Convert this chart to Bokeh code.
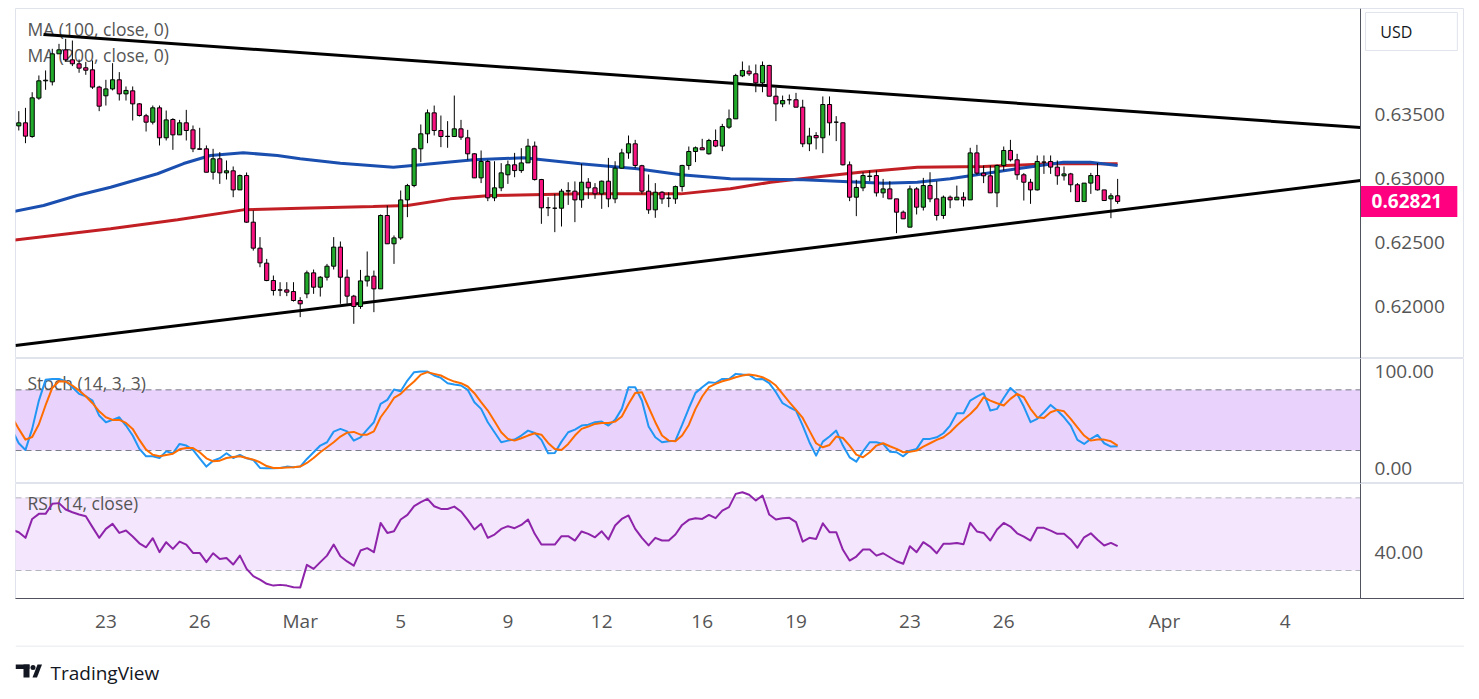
import numpy as np
from bokeh.plotting import figure
from bokeh.models import Range1d, FixedTicker, Span, BoxAnnotation
from bokeh.layouts import column
from bokeh.core.properties import value
from bokeh.embed import file_html
from bokeh.resources import INLINE

# ── Theme ────────────────────────────────────────────────────────
FONT = "Open Sans"
TEXT = "#555555"
AXIS = "#50535e"
BORDER = "#e0e3eb"
GREEN = "#22ab2b"
PINK = "#f8127f"
MA100_COLOR = "#1a4fb0"
MA200_COLOR = "#c21f25"

# ── Data (4h bars) ───────────────────────────────────────────────
opens = [
    0.63411, 0.63435, 0.63328, 0.63628, 0.63763, 0.63755, 0.63974, 0.64005, 0.63927, 0.63896,
    0.63865, 0.63849, 0.63714, 0.63646, 0.63700, 0.63771, 0.63661, 0.63685, 0.63583, 0.63490,
    0.63440, 0.63552, 0.63318, 0.63461, 0.63341, 0.63435, 0.63380, 0.63232, 0.63232, 0.63049,
    0.63154, 0.63044, 0.63060, 0.62911, 0.63023, 0.62659, 0.62456, 0.62339, 0.62203, 0.62130,
    0.62130, 0.62117, 0.62047, 0.62099, 0.62263, 0.62151, 0.62229, 0.62315, 0.62464, 0.62229,
    0.62081, 0.62000, 0.62200, 0.62237, 0.62138, 0.62711, 0.62490, 0.62536, 0.62833, 0.62945,
    0.63232, 0.63349, 0.63513, 0.63375, 0.63328, 0.63328, 0.63388, 0.63318, 0.63193, 0.63005,
    0.63133, 0.62849, 0.62927, 0.63029, 0.63107, 0.63062, 0.63122, 0.63253, 0.62992, 0.62773,
    0.62768, 0.62768, 0.62901, 0.62901, 0.62833, 0.62971, 0.62927, 0.62880, 0.62979, 0.62841,
    0.63081, 0.63200, 0.63271, 0.63100, 0.62901, 0.62755, 0.62893, 0.62846, 0.62841, 0.62937,
    0.63102, 0.63211, 0.63240, 0.63193, 0.63297, 0.63253, 0.63401, 0.63466, 0.63802, 0.63839,
    0.63818, 0.63747, 0.63883, 0.63643, 0.63583, 0.63615, 0.63615, 0.63557, 0.63271, 0.63336,
    0.63318, 0.63578, 0.63440, 0.63435, 0.63107, 0.62854, 0.62927, 0.63016, 0.63023, 0.62888,
    0.62919, 0.62841, 0.62737, 0.62620, 0.62919, 0.62776, 0.62945, 0.62841, 0.62711, 0.62854,
    0.62833, 0.62854, 0.62833, 0.63200, 0.63042, 0.63021, 0.62888, 0.63102, 0.63219, 0.63146,
    0.63029, 0.62971, 0.62911, 0.63128, 0.63133, 0.63089, 0.63021, 0.63036, 0.62951, 0.62820,
    0.62964, 0.63023, 0.62911, 0.62841, 0.62865,
]
highs = [
    0.63526, 0.63552, 0.63674, 0.63805, 0.63844, 0.64013, 0.64052, 0.64091, 0.64078, 0.63930,
    0.63911, 0.63922, 0.63724, 0.63771, 0.63901, 0.63831, 0.63719, 0.63719, 0.63589, 0.63505,
    0.63570, 0.63570, 0.63531, 0.63471, 0.63458, 0.63536, 0.63414, 0.63396, 0.63258, 0.63232,
    0.63206, 0.63141, 0.63094, 0.63031, 0.63047, 0.62750, 0.62542, 0.62372, 0.62242, 0.62190,
    0.62190, 0.62190, 0.62073, 0.62281, 0.62289, 0.62237, 0.62333, 0.62542, 0.62508, 0.62289,
    0.62091, 0.62286, 0.62430, 0.62281, 0.62719, 0.62789, 0.62555, 0.62906, 0.62958, 0.63240,
    0.63422, 0.63539, 0.63570, 0.63492, 0.63448, 0.63648, 0.63458, 0.63380, 0.63198, 0.63219,
    0.63146, 0.63135, 0.63120, 0.63141, 0.63200, 0.63237, 0.63310, 0.63289, 0.62997, 0.62854,
    0.62880, 0.62919, 0.62971, 0.62977, 0.63115, 0.63003, 0.62964, 0.62984, 0.63161, 0.63135,
    0.63232, 0.63336, 0.63302, 0.63107, 0.63031, 0.62964, 0.62901, 0.62893, 0.62945, 0.63107,
    0.63250, 0.63250, 0.63310, 0.63310, 0.63383, 0.63427, 0.63539, 0.63818, 0.63914, 0.63883,
    0.63891, 0.63914, 0.63888, 0.63708, 0.63648, 0.63656, 0.63669, 0.63615, 0.63396, 0.63362,
    0.63641, 0.63641, 0.63487, 0.63440, 0.63133, 0.62990, 0.63049, 0.63062, 0.63062, 0.62997,
    0.62979, 0.62841, 0.62750, 0.62945, 0.62932, 0.63005, 0.63049, 0.62979, 0.62867, 0.62867,
    0.62945, 0.62893, 0.63240, 0.63263, 0.63102, 0.63102, 0.63109, 0.63250, 0.63302, 0.63193,
    0.63042, 0.62997, 0.63180, 0.63180, 0.63180, 0.63141, 0.63094, 0.63044, 0.62964, 0.62964,
    0.63044, 0.63120, 0.62911, 0.62885, 0.62997,
]
lows = [
    0.63375, 0.63276, 0.63318, 0.63615, 0.63693, 0.63727, 0.63974, 0.63914, 0.63878, 0.63826,
    0.63810, 0.63700, 0.63526, 0.63570, 0.63688, 0.63609, 0.63609, 0.63453, 0.63484, 0.63367,
    0.63422, 0.63258, 0.63297, 0.63224, 0.63341, 0.63297, 0.63206, 0.63227, 0.63049, 0.62992,
    0.62958, 0.62992, 0.62854, 0.62911, 0.62654, 0.62437, 0.62307, 0.62198, 0.62086, 0.62081,
    0.62081, 0.62039, 0.61917, 0.62065, 0.62099, 0.62078, 0.62203, 0.62289, 0.62021, 0.62021,
    0.61865, 0.61982, 0.62156, 0.61956, 0.62138, 0.62490, 0.62333, 0.62521, 0.62698, 0.62932,
    0.63128, 0.63276, 0.63336, 0.63245, 0.63240, 0.63328, 0.63302, 0.63146, 0.63005, 0.62964,
    0.62823, 0.62823, 0.62901, 0.62958, 0.63010, 0.63044, 0.63122, 0.62984, 0.62646, 0.62706,
    0.62581, 0.62625, 0.62794, 0.62659, 0.62771, 0.62841, 0.62841, 0.62763, 0.62776, 0.62807,
    0.63076, 0.63154, 0.63081, 0.62880, 0.62724, 0.62693, 0.62802, 0.62776, 0.62802, 0.62898,
    0.63068, 0.63128, 0.63224, 0.63187, 0.63245, 0.63214, 0.63388, 0.63466, 0.63792, 0.63802,
    0.63674, 0.63674, 0.63643, 0.63448, 0.63557, 0.63578, 0.63557, 0.63245, 0.63214, 0.63227,
    0.63198, 0.63336, 0.63292, 0.63102, 0.62823, 0.62706, 0.62901, 0.62979, 0.62859, 0.62849,
    0.62841, 0.62573, 0.62685, 0.62620, 0.62719, 0.62750, 0.62815, 0.62672, 0.62685, 0.62768,
    0.62833, 0.62781, 0.62833, 0.63029, 0.62964, 0.62888, 0.62776, 0.63062, 0.63133, 0.62990,
    0.62828, 0.62802, 0.62906, 0.63036, 0.63036, 0.62951, 0.62984, 0.62893, 0.62820, 0.62820,
    0.62880, 0.62906, 0.62828, 0.62690, 0.62802,
]
closes = [
    0.63435, 0.63331, 0.63630, 0.63763, 0.63768, 0.63974, 0.64005, 0.63927, 0.63896, 0.63862,
    0.63846, 0.63714, 0.63565, 0.63700, 0.63771, 0.63661, 0.63688, 0.63583, 0.63492, 0.63440,
    0.63552, 0.63318, 0.63458, 0.63341, 0.63435, 0.63375, 0.63232, 0.63228, 0.63049, 0.63154,
    0.63044, 0.63060, 0.62911, 0.63023, 0.62659, 0.62456, 0.62341, 0.62203, 0.62125, 0.62128,
    0.62112, 0.62047, 0.62021, 0.62263, 0.62151, 0.62229, 0.62315, 0.62464, 0.62229, 0.62081,
    0.62000, 0.62200, 0.62237, 0.62138, 0.62711, 0.62490, 0.62536, 0.62833, 0.62945, 0.63232,
    0.63349, 0.63513, 0.63375, 0.63328, 0.63330, 0.63388, 0.63323, 0.63193, 0.63005, 0.63133,
    0.62849, 0.62927, 0.63044, 0.63107, 0.63062, 0.63122, 0.63253, 0.62992, 0.62771, 0.62771,
    0.62768, 0.62901, 0.62905, 0.62833, 0.62971, 0.62927, 0.62880, 0.62979, 0.62841, 0.63081,
    0.63200, 0.63271, 0.63102, 0.62901, 0.62755, 0.62893, 0.62841, 0.62846, 0.62937, 0.63102,
    0.63211, 0.63240, 0.63224, 0.63297, 0.63253, 0.63406, 0.63466, 0.63805, 0.63844, 0.63818,
    0.63747, 0.63883, 0.63643, 0.63583, 0.63609, 0.63615, 0.63557, 0.63271, 0.63331, 0.63318,
    0.63578, 0.63435, 0.63440, 0.63107, 0.62854, 0.62930, 0.63023, 0.63019, 0.62888, 0.62919,
    0.62841, 0.62737, 0.62685, 0.62919, 0.62776, 0.62945, 0.62841, 0.62711, 0.62854, 0.62833,
    0.62854, 0.62833, 0.63200, 0.63042, 0.63021, 0.62888, 0.63102, 0.63219, 0.63146, 0.63029,
    0.62971, 0.62911, 0.63133, 0.63128, 0.63089, 0.63021, 0.63036, 0.62951, 0.62820, 0.62964,
    0.63023, 0.62911, 0.62828, 0.62865, 0.62821,
]

# moving averages, sampled along the curves (bar index, price)
ma100_idx = [-1.2, 3.7, 8.7, 13.7, 20.7, 24.6, 28.6, 33.5, 38.6, 42, 48, 55.9, 60.4, 67.9,
             75.3, 83.8, 92.3, 98.8, 106.2, 117.1, 125.6, 129.1, 134.1, 139, 144, 149,
             155.9, 159.9, 164]
ma100 = [0.62737, 0.62789, 0.62867, 0.62932, 0.63037, 0.63117, 0.63180, 0.63201, 0.63180,
         0.63154, 0.63120, 0.63088, 0.63109, 0.63146, 0.63162, 0.63115, 0.63076, 0.63029,
         0.62998, 0.62990, 0.62971, 0.62963, 0.62971, 0.62998, 0.63037, 0.63076, 0.63127,
         0.63127, 0.63102]
ma200_idx = [-1.2, 13.7, 23.7, 33.5, 42, 52.9, 58, 64.4, 70.4, 83.8, 98.8, 106.2, 112.2,
             119.7, 125.6, 134.1, 144, 154, 164]
ma200 = [0.62516, 0.62607, 0.62677, 0.62755, 0.62768, 0.62781, 0.62789, 0.62841, 0.62867,
         0.62880, 0.62880, 0.62920, 0.62971, 0.63016, 0.63049, 0.63088, 0.63094, 0.63115,
         0.63115]

# triangle trendlines (bar index, price)
upper_idx = [3.7, 200.25]
upper_px = [0.64125, 0.63398]
lower_idx = [-0.5, 200.25]
lower_px = [0.61695, 0.62984]

# Stoch (14, 3, 3), first value is the bar before the first visible candle
stoch_k = [
    40.4, 27.2, 20.6, 41.4, 69.4, 89.9, 90.8, 90.8, 88.5, 82.6,
    76.0, 73.7, 69.4, 54.6, 48.0, 50.3, 52.9, 44.7, 34.8, 21.6,
    14.3, 14.3, 12.6, 19.2, 17.3, 26.5, 24.9, 20.6, 12.3, 4.1,
    10.0, 12.3, 17.3, 12.6, 15.6, 12.3, 10.7, 2.8, 2.4, 2.4,
    2.8, 4.1, 3.4, 4.1, 11.7, 18.3, 24.9, 28.2, 38.7, 41.4,
    39.0, 29.8, 33.1, 40.7, 48.0, 66.1, 70.1, 80.3, 78.6, 89.2,
    97.5, 98.1, 98.1, 94.2, 91.8, 86.6, 85.2, 84.3, 80.0, 67.8,
    61.2, 48.0, 38.1, 28.2, 29.8, 30.8, 34.8, 39.7, 37.4, 30.5,
    17.3, 17.6, 28.8, 38.1, 40.7, 44.7, 45.6, 48.0, 48.6, 44.7,
    50.3, 61.2, 82.6, 82.6, 69.4, 43.7, 33.1, 28.2, 29.1, 29.8,
    45.3, 61.8, 77.0, 82.6, 87.6, 86.9, 90.8, 90.8, 95.8, 95.1,
    94.8, 90.5, 90.8, 86.6, 77.7, 66.8, 62.8, 59.5, 44.7, 28.2,
    15.0, 28.8, 33.8, 39.7, 24.9, 13.3, 9.0, 19.2, 28.2, 28.2,
    26.5, 18.9, 18.3, 14.3, 19.9, 21.6, 31.5, 31.5, 33.1, 37.1,
    44.7, 56.9, 56.9, 69.4, 73.4, 76.7, 59.5, 61.2, 72.0, 81.9,
    76.0, 63.5, 48.0, 51.3, 57.9, 65.1, 59.5, 52.9, 44.7, 30.5,
    26.5, 31.5, 35.4, 27.2, 23.9, 24.2,
]
stoch_d = [
    52.9, 41.4, 30.8, 33.4, 46.0, 64.8, 81.9, 88.5, 88.2, 84.3,
    79.3, 73.7, 66.8, 58.8, 52.9, 50.3, 50.3, 47.3, 41.4, 30.5,
    20.9, 15.9, 14.3, 15.6, 16.9, 21.2, 22.5, 22.5, 18.3, 12.3,
    9.3, 10.0, 12.6, 13.6, 14.3, 12.6, 11.0, 8.4, 4.7, 2.8,
    2.8, 3.1, 3.4, 4.1, 7.7, 12.6, 18.3, 23.2, 28.2, 33.8,
    37.7, 38.4, 35.7, 35.7, 39.0, 52.9, 61.8, 72.0, 76.0, 82.6,
    88.2, 95.1, 97.5, 95.8, 94.2, 90.8, 88.2, 86.6, 83.3, 76.7,
    67.8, 59.5, 49.0, 38.1, 31.5, 29.8, 32.1, 34.8, 37.1, 35.7,
    27.5, 21.6, 20.6, 26.5, 34.8, 41.4, 43.7, 46.3, 47.3, 47.3,
    48.6, 53.6, 66.1, 77.0, 77.7, 62.8, 48.0, 34.8, 29.8, 29.1,
    34.8, 45.3, 61.2, 73.4, 82.6, 85.9, 88.5, 90.2, 92.5, 94.2,
    95.1, 94.2, 92.5, 89.2, 84.3, 76.0, 67.8, 60.2, 52.2, 39.7,
    27.2, 23.2, 25.5, 33.8, 32.4, 24.9, 15.9, 13.3, 18.3, 24.9,
    27.2, 24.2, 21.6, 18.3, 18.9, 19.9, 23.9, 27.2, 30.5, 33.1,
    38.1, 44.7, 50.6, 56.2, 62.8, 72.7, 69.4, 66.8, 64.5, 71.1,
    76.0, 72.7, 61.2, 52.9, 52.2, 57.9, 60.2, 58.8, 51.3, 43.0,
    34.8, 29.8, 30.8, 30.8, 29.1, 24.9,
]

# RSI (14, close)
rsi = [
    52.4, 51.1, 48.0, 58.4, 61.2, 61.2, 66.7, 67.1, 63.6, 62.1,
    60.8, 59.9, 53.9, 48.0, 52.9, 55.7, 50.7, 52.0, 48.7, 45.0,
    42.8, 47.8, 40.1, 45.6, 41.9, 45.9, 44.3, 39.7, 39.7, 34.6,
    39.5, 36.4, 36.9, 33.3, 38.2, 30.9, 26.9, 25.0, 22.7, 21.7,
    22.1, 21.7, 20.8, 20.6, 33.1, 30.9, 34.6, 38.2, 44.3, 37.9,
    35.0, 32.7, 41.0, 42.3, 40.1, 56.2, 50.7, 51.6, 58.1, 60.6,
    65.4, 67.6, 69.4, 65.4, 63.9, 63.9, 65.2, 62.5, 57.9, 52.6,
    55.7, 48.0, 49.8, 52.9, 54.4, 53.3, 55.1, 58.1, 50.2, 44.3,
    44.3, 44.3, 48.9, 48.9, 46.5, 51.5, 50.2, 48.3, 51.6, 47.1,
    54.8, 58.4, 60.3, 52.9, 48.0, 43.8, 48.0, 46.5, 46.5, 49.8,
    55.1, 57.9, 58.8, 58.4, 60.6, 58.8, 63.0, 64.9, 72.2, 73.1,
    71.7, 68.5, 71.3, 60.8, 58.1, 58.8, 59.0, 56.6, 45.9, 48.0,
    47.4, 56.0, 51.1, 51.1, 41.4, 35.5, 37.7, 41.6, 41.6, 38.2,
    39.5, 37.3, 35.1, 33.7, 43.4, 40.1, 45.6, 43.2, 39.5, 44.7,
    44.7, 45.2, 44.5, 56.2, 51.5, 50.7, 46.5, 52.6, 56.2, 54.2,
    50.5, 48.7, 46.5, 53.5, 53.5, 52.0, 50.2, 50.2, 47.1, 42.5,
    48.3, 50.5, 46.9, 43.8, 45.2, 43.4,
]

# date axis
tick_pos = [13, 27, 42, 57, 73, 87, 102, 116, 133, 147, 171, 189]
tick_labels = ["23", "26", "Mar", "5", "9", "12", "16", "19", "23", "26", "Apr", "4"]

price_ticks = [0.620, 0.625, 0.630, 0.635]
stoch_ticks = [0, 100]
rsi_ticks = [40]

# ── Layout constants (bar-index units on x) ──────────────────────
X_START, X_END = -0.49, 215.77      # frame spans the price scale too
SCALE_X = 200.25                    # where the price scale begins
LABEL_X = 202.35                    # scale label left edge

x_range = Range1d(X_START, X_END)


def _pane(height, y_range, top=0, bottom=0, x_axis=None):
    fig = figure(
        frame_width=1449, frame_height=height,
        x_range=x_range, y_range=y_range,
        x_axis_location=x_axis, y_axis_location=None,
        toolbar_location=None, output_backend="svg",
        min_border_left=15, min_border_right=0,
        min_border_top=top, min_border_bottom=bottom,
    )
    fig.grid.visible = False
    fig.outline_line_color = BORDER
    fig.background_fill_color = "white"
    fig.border_fill_color = "white"
    fig.add_layout(Span(location=SCALE_X, dimension="height",
                        line_color=AXIS, line_width=1))
    return fig


def _scale_labels(fig, ticks, fmt, nudge=0):
    """Right-hand scale, TradingView style."""
    fig.text(x=[LABEL_X] * len(ticks), y=ticks, text=[fmt.format(t) for t in ticks],
             text_font=value(FONT), text_font_size="19px", text_color=TEXT,
             text_baseline="middle", text_align="left", y_offset=nudge)


def _pane_title(fig, y, text):
    fig.text(x=[1.3], y=[y], text=[text], text_font=value(FONT),
             text_font_size="17.5px", text_color=TEXT, text_baseline="middle")


# ── Price pane ───────────────────────────────────────────────────
main = _pane(350, Range1d(0.61594, 0.64328), top=8)
_pane_title(main, 0.64164, "MA (100, close, 0)")
_pane_title(main, 0.63961, "MA (200, close, 0)")

main.line(ma200_idx, ma200, line_color=MA200_COLOR, line_width=3)
main.line(ma100_idx, ma100, line_color=MA100_COLOR, line_width=3)
main.line(upper_idx, upper_px, line_color="black", line_width=3)
main.line(lower_idx, lower_px, line_color="black", line_width=3)

bars = np.arange(len(opens))
o = np.array(opens)
c = np.array(closes)
body_colors = [GREEN if cc >= oo else PINK for oo, cc in zip(opens, closes)]
main.segment(bars, lows, bars, highs, line_color="black", line_width=1)
main.vbar(x=bars, top=np.maximum(o, c), bottom=np.minimum(o, c), width=0.62,
          fill_color=body_colors, line_color="black", line_width=1)

_scale_labels(main, price_ticks, "{:.5f}")

# last price tag
last = closes[-1]
tag_half = 0.00121
main.quad(left=[SCALE_X], right=[214.7], top=[last + tag_half], bottom=[last - tag_half],
          fill_color="#ff0080", line_color=None)
main.text(x=[201.9], y=[last], text=[f"{last:.5f}"], text_font=value(FONT),
          text_font_size="19px", text_font_style="bold", text_color="white",
          text_baseline="middle", text_align="left")

# currency button
main.quad(left=[201.0], right=[214.7], top=[0.64297], bottom=[0.64000],
          fill_color="white", line_color=BORDER, line_width=1)
main.text(x=[203.2], y=[0.64148], text=["USD"], text_font=value(FONT),
          text_font_size="16px", text_color="#131722", text_baseline="middle")

# ── Stochastic pane ──────────────────────────────────────────────
stoch = _pane(125, Range1d(-12.6, 111))
stoch.add_layout(BoxAnnotation(left=X_START, right=SCALE_X, bottom=20, top=80,
                               fill_color="#e9d3fc", fill_alpha=1,
                               line_alpha=0, level="underlay"))
for lvl in (80, 20):
    stoch.line([X_START, SCALE_X], [lvl, lvl], line_color="#787b86",
               line_dash="6 4", line_width=1)
_pane_title(stoch, 87.2, "Stoch (14, 3, 3)")
stoch.line(np.arange(len(stoch_k)) - 1, stoch_k, line_color="#2196f3", line_width=2,
           line_join="round")
stoch.line(np.arange(len(stoch_d)) - 1, stoch_d, line_color="#ff6d00", line_width=2,
           line_join="round")
_scale_labels(stoch, stoch_ticks, "{:.2f}", nudge=[-2, 2])

# ── RSI pane ─────────────────────────────────────────────────────
rsi_p = _pane(115, Range1d(14.6, 77.9), bottom=47, x_axis="below")
rsi_p.add_layout(BoxAnnotation(left=X_START, right=SCALE_X, bottom=30, top=70,
                               fill_color="#f4e6fd", fill_alpha=1,
                               line_alpha=0, level="underlay"))
for lvl in (70, 30):
    rsi_p.line([X_START, SCALE_X], [lvl, lvl], line_color="#b2b5be",
               line_dash="6 4", line_width=1)
_pane_title(rsi_p, 66.9, "RSI (14, close)")
rsi_p.line(np.arange(len(rsi)) - 1, rsi, line_color="#8e24aa", line_width=2,
           line_join="round")
_scale_labels(rsi_p, rsi_ticks, "{:.2f}")

xa = rsi_p.xaxis[0]
xa.ticker = FixedTicker(ticks=tick_pos)
xa.major_label_overrides = dict(zip(tick_pos, tick_labels))
xa.axis_line_color = AXIS
xa.major_tick_line_color = None
xa.minor_tick_line_color = None
xa.major_label_text_color = TEXT
xa.major_label_text_font = FONT
xa.major_label_text_font_size = "19px"
xa.major_label_standoff = 3

# ── Footer logo (frame is aligned with the panes, page coords) ───
logo = figure(frame_width=1449, frame_height=45, x_range=Range1d(15, 1464),
              y_range=Range1d(690, 645), toolbar_location=None,
              output_backend="svg", min_border_left=15, min_border_right=0,
              min_border_top=0, min_border_bottom=0)
logo.axis.visible = False
logo.grid.visible = False
logo.outline_line_color = None
logo.line([15, 1464], [645.5, 645.5], line_color=BORDER, line_width=1)
logo.quad(left=[15, 23], right=[29, 29], top=[664, 664], bottom=[668.5, 677],
          fill_color="#131722", line_color=None)
logo.scatter([32.5], [667], size=5, fill_color="#131722", line_color=None)
logo.patch([32, 36.5, 41.5, 37], [677, 677, 664, 664], fill_color="#131722", line_color=None)
logo.text(x=[50], y=[672], text=["TradingView"], text_font=value(FONT),
          text_font_size="19px", text_color="#131722", text_baseline="middle")

p = column(main, stoch, rsi_p, logo)
open("out.html", "w").write(file_html(p, INLINE))
